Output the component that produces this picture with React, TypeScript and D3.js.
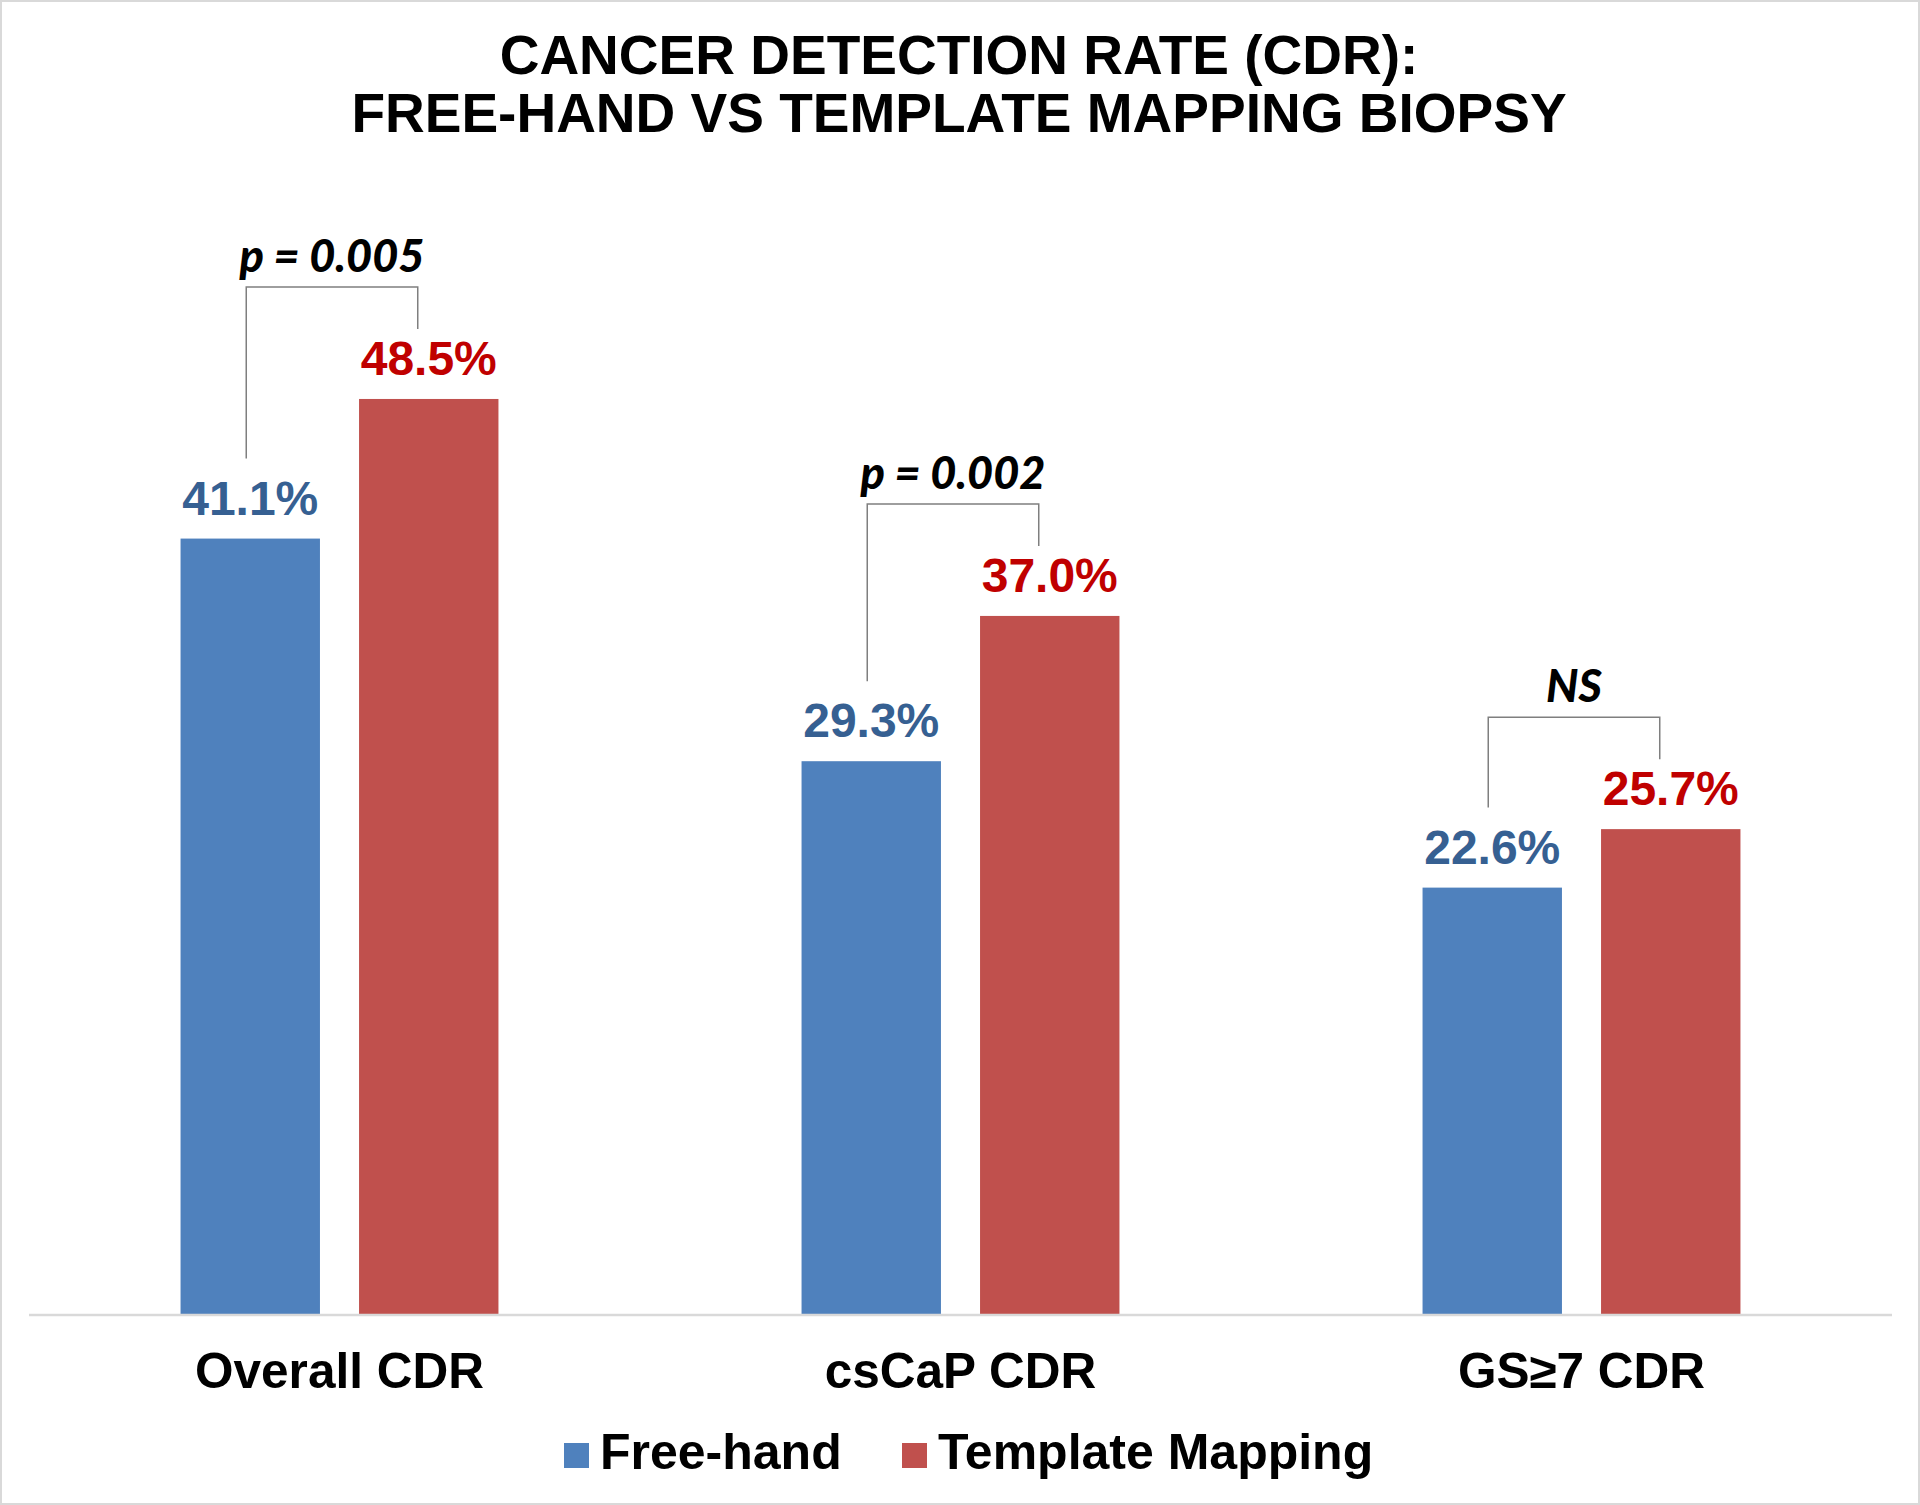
import React from "react";
import * as d3 from "d3";

const categories = ["Overall CDR", "csCaP CDR", "GS≥7 CDR"];
const seriesNames = ["Free-hand", "Template Mapping"];
const freeHand = [41.1, 29.3, 22.6];
const templateMapping = [48.5, 37.0, 25.7];
const pLabels = ["p = 0.005", "p = 0.002", "NS"];

const W = 1920;
const H = 1505;
const barColors = ["#4F81BD", "#C0504D"];
const labelColors = ["#366092", "#C00000"];
const sansBold = "'Liberation Sans', Arial, sans-serif";

export default function App() {
  const x0 = d3.scaleBand<string>().domain(categories).range([29, 1892]).padding(0);
  const x1 = d3
    .scaleBand<string>()
    .domain(seriesNames)
    .range([0, x0.bandwidth()])
    .paddingInner(0.219)
    .paddingOuter(0.849);
  const y = d3.scaleLinear().domain([0, 60]).range([1314, 182]);

  const rows = categories.map((c, i) => ({
    category: c,
    values: [freeHand[i], templateMapping[i]],
    p: pLabels[i],
  }));

  return (
    <div style={{ position: "absolute", left: 0, top: 0 }}>
      <svg width={W} height={H} style={{ display: "block", background: "#fff" }}>
        <rect x={1} y={1} width={W - 2} height={H - 2} fill="#fff" stroke="#d9d9d9" strokeWidth={2} />

        {/* title */}
        <text
          x={959}
          textAnchor="middle"
          fontFamily={sansBold}
          fontWeight="bold"
          fontSize={55}
          fill="#000"
        >
          <tspan x={959} y={74}>CANCER DETECTION RATE (CDR):</tspan>
          <tspan x={959} y={132}>FREE-HAND VS TEMPLATE MAPPING BIOPSY</tspan>
        </text>

        {/* bars + value labels */}
        {rows.map((r) => {
          const gx = x0(r.category)!;
          return (
            <g key={r.category} transform={`translate(${gx},0)`}>
              {r.values.map((v, si) => {
                const bx = x1(seriesNames[si])!;
                return (
                  <g key={si}>
                    <rect
                      x={bx}
                      y={y(v)}
                      width={x1.bandwidth()}
                      height={y(0) - y(v)}
                      fill={barColors[si]}
                    />
                    <text
                      x={bx + x1.bandwidth() / 2}
                      y={y(v) - 24}
                      textAnchor="middle"
                      fontFamily={sansBold}
                      fontWeight="bold"
                      fontSize={48}
                      fill={labelColors[si]}
                    >
                      {v.toFixed(1)}%
                    </text>
                  </g>
                );
              })}
            </g>
          );
        })}

        {/* significance brackets */}
        {rows.map((r) => {
          const gx = x0(r.category)!;
          const lx = gx + x1(seriesNames[0])! + x1.bandwidth() / 2 - 4;
          const rx = gx + x1(seriesNames[1])! + x1.bandwidth() / 2 - 11;
          const topY = y(Math.max(...r.values)) - 112;
          const lBottom = y(r.values[0]) - 80;
          const rBottom = y(r.values[1]) - 70;
          return (
            <g key={"b" + r.category}>
              <path
                d={`M${lx},${lBottom}V${topY}H${rx}V${rBottom}`}
                fill="none"
                stroke="#7f7f7f"
                strokeWidth={1.5}
              />
              <text
                x={(lx + rx) / 2}
                y={topY - 15}
                textAnchor="middle"
                fontFamily="Lato, 'Open Sans', sans-serif"
                fontWeight={900}
                fontStyle="italic"
                fontSize={45}
                fill="#000"
              >
                {r.p}
              </text>
            </g>
          );
        })}

        {/* category axis */}
        <line x1={29} x2={1892} y1={y(0) + 1} y2={y(0) + 1} stroke="#d9d9d9" strokeWidth={2.5} />
        {categories.map((c) => (
          <text
            key={c}
            x={x0(c)! + x0.bandwidth() / 2}
            y={1388}
            textAnchor="middle"
            fontFamily={sansBold}
            fontWeight="bold"
            fontSize={49.5}
            fill="#000"
          >
            {c}
          </text>
        ))}

        {/* legend */}
        {seriesNames.map((s, i) => {
          const lx = [564, 902][i];
          return (
            <g key={s}>
              <rect x={lx} y={1443} width={25} height={25} fill={barColors[i]} />
              <text
                x={lx + 36}
                y={1469}
                fontFamily={sansBold}
                fontWeight="bold"
                fontSize={50}
                fill="#000"
              >
                {s}
              </text>
            </g>
          );
        })}
      </svg>
    </div>
  );
}
